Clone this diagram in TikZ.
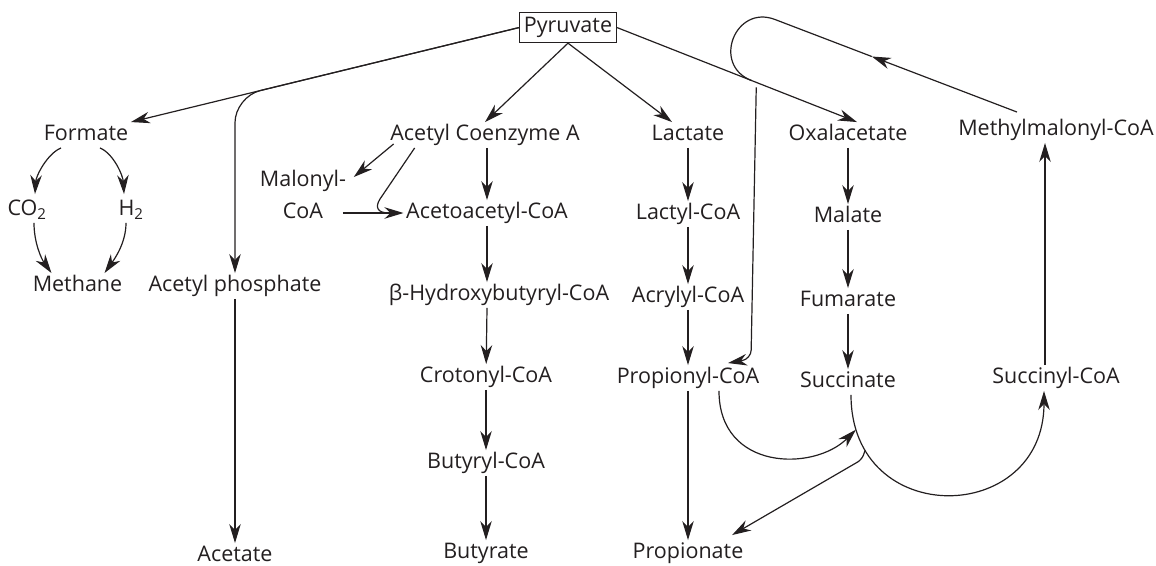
\documentclass[tikz,border=0pt]{standalone}
\usepackage{fontspec}
\setmainfont{Open Sans}
\usepackage{tikz}
\usetikzlibrary{arrows.meta,calc}
\definecolor{ink}{HTML}{231F20}
\tikzset{met/.style={inner sep=2.5pt,text height=15.5pt,text depth=5pt,text=ink},hub/.style={met,draw=ink,line width=1.1pt,inner xsep=4.5pt,inner ysep=4.75pt},arr/.style={-{Stealth[length=19pt,width=11.5pt,inset=6pt]},line width=1.2pt,draw=ink},lnk/.style={line width=1.2pt,draw=ink}}

\begin{document}
\begin{tikzpicture}[x=1pt,y=-1pt,font=\fontsize{21.5}{26}\selectfont]
\useasboundingbox (0,0) rectangle (1156,565);
\node[hub] (pyr) at (568,27.6) {Pyruvate};
\node[met] (form) at (86,135) {Formate};
\node[met] (cotwo) at (27,210) {CO\textsubscript{2}};
\node[met] (htwo) at (131,210) {H\textsubscript{2}};
\node[met] (meth) at (77.5,286) {Methane};
\node[met] (acp) at (235,286) {Acetyl phosphate};
\node[met] (acet) at (235,556) {Acetate};
\node[met] (acoa) at (485,135) {Acetyl Coenzyme A};
\node[text=ink,align=center,inner sep=2.5pt] (malo) at (303,194) {Malonyl-\\[6pt]CoA};
\node[met] (acac) at (487,213) {Acetoacetyl-CoA};
\node[met] (hbut) at (499,295) {β-Hydroxybutyryl-CoA};
\node[met] (crot) at (486,377) {Crotonyl-CoA};
\node[met] (buty) at (486,463) {Butyryl-CoA};
\node[met] (butr) at (486,553) {Butyrate};
\node[met] (lact) at (688,135) {Lactate};
\node[met] (lcoa) at (688,214) {Lactyl-CoA};
\node[met] (acry) at (688,297) {Acrylyl-CoA};
\node[met] (pcoa) at (688,378) {Propionyl-CoA};
\node[met] (prop) at (688,553) {Propionate};
\node[met] (oxa) at (848,135) {Oxalacetate};
\node[met] (mal) at (848,217) {Malate};
\node[met] (fum) at (848,301) {Fumarate};
\node[met] (succ) at (848,382) {Succinate};
\node[met] (mmc) at (1056,130) {Methylmalonyl-CoA};
\node[met] (scoa) at (1056,378) {Succinyl-CoA};

\coordinate (ftip) at (form.north east);
\coordinate (cnr) at (intersection of pyr.west--ftip and acp.north--acp.south);
\coordinate (oxtip) at ([xshift=9pt]oxa.north);
\draw[arr] (pyr.west) -- (ftip);
\draw[arr,rounded corners=26pt] (pyr.west) -- (cnr) -- (acp);
\draw[arr] (pyr.south) -- (acoa.north);
\draw[arr] (pyr.south) -- ([xshift=-16pt]lact.north);
\draw[arr] (pyr.east) -- (oxtip);

\draw[arr] ([xshift=-25pt]form.south) .. controls +(-14,6) and +(1,-18) .. ([shift={(8pt,3pt)}]cotwo.north);
\draw[arr] ([xshift=14pt]form.south) .. controls +(14,6) and +(-1,-18) .. ([shift={(-7pt,3pt)}]htwo.north);
\draw[arr] ([xshift=7pt]cotwo.south) .. controls +(0,20) and +(-10,-14) .. ([xshift=-26pt]meth.north);
\draw[arr] ([xshift=-5pt]htwo.south) .. controls +(0,20) and +(10,-14) .. ([xshift=27pt]meth.north);
\draw[arr] (acp) -- (acet);

\draw[arr] ([shift={(6pt,4pt)}]acoa.south west) -- ([shift={(5pt,-10pt)}]malo.north east);
\coordinate (mcoa) at (malo.east |- acac.west);
\draw[arr] ([xshift=-6pt]mcoa) -- (acac.west);
\draw[lnk] ([xshift=27pt]acoa.south west) -- (380,199) .. controls (375,207) and (377,213) .. (389,213);
\draw[arr] (acoa.south -| acac) -- (acac);
\draw[arr] (acac) -- (acac |- hbut.north);
\draw[arr] (acac |- hbut.south) -- (crot);
\draw[arr] (crot) -- (buty);\draw[arr] (buty) -- (butr);

\draw[arr] (lact) -- (lcoa);\draw[arr] (lcoa) -- (acry);\draw[arr] (acry) -- (pcoa);\draw[arr] (pcoa) -- (prop);
\draw[arr] (oxa) -- (mal);\draw[arr] (mal) -- (fum);\draw[arr] (fum) -- (succ);

\draw[arr] ([xshift=3pt]succ.south) .. controls +(0,135) and +(0,135) .. ([xshift=-12pt]scoa.south) coordinate[pos=0.095] (sctip) coordinate[pos=0.165] (schook);
\draw[arr] ([xshift=31pt]pcoa.south) .. controls +(0,80) and +(-42,42) .. (sctip);
\coordinate (ptip) at ([shift={(-14pt,5pt)}]prop.north east);
\draw[arr,rounded corners=5pt] (schook) -- ++(-3,9) -- (ptip);
\draw[arr] ([xshift=-11pt]scoa.north) -- ([xshift=-11pt]mmc.south);

\coordinate (mstart) at ([shift={(-39pt,5pt)}]mmc.north);
\coordinate (lp1) at (775,19.5);
\coordinate (mmid) at ($(mstart)!0.6!(lp1)$);
\coordinate (lp2) at ($(pyr.east)!0.56!(oxtip)$);
\draw[arr] (mstart) -- (mmid);
\draw[lnk] (mmid) -- (lp1) .. controls +(-40,-15.4) and +(-40,-15.4) .. (lp2);
\coordinate (vt0) at ($(pyr.east)!0.58!(oxtip)$);
\coordinate (vtop) at ([yshift=-5pt]vt0);
\coordinate (pctip) at ([shift={(40pt,2pt)}]pcoa.north);
\draw[arr,rounded corners=9pt] (vtop) -- ([shift={(23pt,4pt)}]pctip) -- (pctip);
\end{tikzpicture}
\end{document}
